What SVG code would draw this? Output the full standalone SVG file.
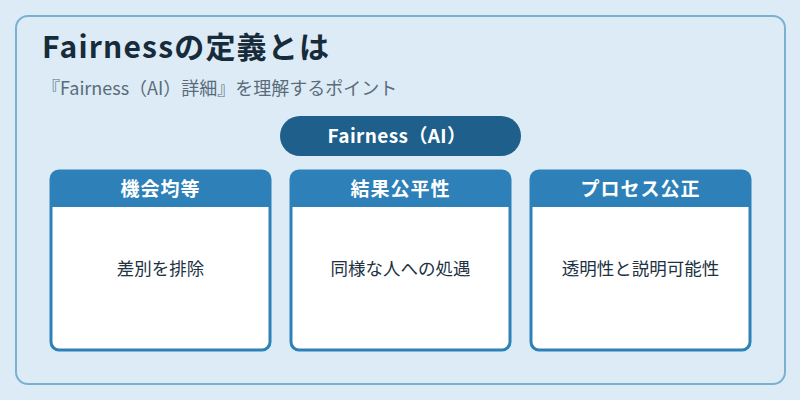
<svg xmlns="http://www.w3.org/2000/svg" width="800" height="400" viewBox="0 0 800 400">
<style>
.t{font-family:"Noto Sans CJK JP","Noto Sans",sans-serif}
.card{fill:#ffffff;stroke:#2e81b8;stroke-width:3}
.hd{fill:#2e81b8}
.ht{font-size:19px;font-weight:bold;fill:#ffffff;text-anchor:middle;letter-spacing:1px}
.bt{font-size:17.5px;fill:#22313f;text-anchor:middle}
</style>
<rect width="800" height="400" fill="#dcebf6"/>
<rect x="16" y="16" width="769" height="368" rx="12" fill="#dcebf6" stroke="#7ab0d0" stroke-width="2"/>
<text class="t" x="42" y="58" font-size="30" font-weight="bold" fill="#172b3a" letter-spacing="1.2">Fairnessの定義とは</text>
<text class="t" x="42" y="95" font-size="18" fill="#5a6b7a">『Fairness（AI）詳細』を理解するポイント</text>
<g id="root">
<rect x="280" y="116" width="241" height="40" rx="20" fill="#1f5f8b"/>
<text class="t" x="397" y="143" font-size="19" font-weight="bold" fill="#ffffff" text-anchor="middle" letter-spacing="0.4">Fairness（AI）</text>
</g>
<g id="connectors"></g>
<g id="card1">
<rect class="card" x="51" y="171" width="219" height="179" rx="8"/>
<path class="hd" d="M51 207 V179 a8 8 0 0 1 8 -8 H262 a8 8 0 0 1 8 8 V207 Z"/>
<text class="t ht" x="160.5" y="196">機会均等</text>
<text class="t bt" x="160.5" y="275">差別を排除</text>
</g>
<g id="card2">
<rect class="card" x="291" y="171" width="219" height="179" rx="8"/>
<path class="hd" d="M291 207 V179 a8 8 0 0 1 8 -8 H502 a8 8 0 0 1 8 8 V207 Z"/>
<text class="t ht" x="400.5" y="196">結果公平性</text>
<text class="t bt" x="400.5" y="275">同様な人への処遇</text>
</g>
<g id="card3">
<rect class="card" x="531" y="171" width="219" height="179" rx="8"/>
<path class="hd" d="M531 207 V179 a8 8 0 0 1 8 -8 H742 a8 8 0 0 1 8 8 V207 Z"/>
<text class="t ht" x="640.5" y="196">プロセス公正</text>
<text class="t bt" x="640.5" y="275">透明性と説明可能性</text>
</g>
</svg>
